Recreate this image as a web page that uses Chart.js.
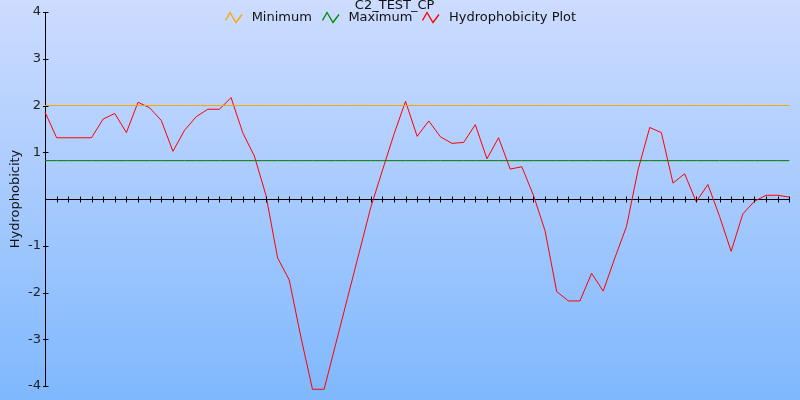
<!DOCTYPE html>
<html>
<head>
<meta charset="utf-8">
<title>C2_TEST_CP</title>
<script src="https://cdn.jsdelivr.net/npm/chart.js@4"></script>
<style>
  html, body { margin: 0; padding: 0; background: #fff; }
  #wrap { width: 800px; height: 400px; }
</style>
</head>
<body>
<div id="wrap"><canvas id="hydroChart" width="800" height="400"></canvas></div>
<script>
// residue positions along the sequence
const positions = [1, 2, 3, 4, 5, 6, 7, 8, 9, 10, 11, 12, 13, 14, 15, 16, 17, 18, 19, 20,
    21, 22, 23, 24, 25, 26, 27, 28, 29, 30, 31, 32, 33, 34, 35, 36, 37, 38, 39, 40,
    41, 42, 43, 44, 45, 46, 47, 48, 49, 50, 51, 52, 53, 54, 55, 56, 57, 58, 59, 60,
    61, 62, 63, 64, 65];

// hydrophobicity plot values
const hydroValues = [1.86, 1.31, 1.31, 1.31, 1.31, 1.71, 1.83, 1.42, 2.07, 1.95,
    1.68, 1.02, 1.47, 1.76, 1.92, 1.92, 2.17, 1.42, 0.92, 0.08,
    -1.26, -1.73, -2.95, -4.07, -4.07, -3.10, -2.13, -1.16, -0.19, 0.60,
    1.38, 2.09, 1.34, 1.67, 1.33, 1.19, 1.21, 1.59, 0.86, 1.31,
    0.64, 0.69, 0.08, -0.68, -1.98, -2.18, -2.18, -1.59, -1.97, -1.26,
    -0.59, 0.63, 1.53, 1.42, 0.34, 0.54, -0.06, 0.31, -0.37, -1.12,
    -0.32, -0.05, 0.08, 0.08, 0.04];

// threshold lines
const minimumLevel = 2.0;
const maximumLevel = 0.82;

const yTicks = [-4, -3, -2, -1, 0, 1, 2, 3, 4];

const FONT = 'DejaVu Sans';

// little zigzag icon for legend entries
function zigzag(color) {
    const c = document.createElement('canvas');
    c.width = 20;
    c.height = 13;
    const g = c.getContext('2d');
    g.strokeStyle = color;
    g.lineWidth = 1.3;
    g.beginPath();
    g.moveTo(0.5, 9.5);
    g.lineTo(5, 1.5);
    g.lineTo(11, 11.5);
    g.lineTo(17, 3.5);
    g.stroke();
    return c;
}

const bgPlugin = {
    id: 'bg',
    beforeDraw(chart) {
        const ctx = chart.ctx;
        const grad = ctx.createLinearGradient(0, 0, 0, chart.height);
        grad.addColorStop(0, '#cddcff');
        grad.addColorStop(1, '#7fb8fd');
        ctx.save();
        ctx.fillStyle = grad;
        ctx.fillRect(0, 0, chart.width, chart.height);
        ctx.restore();
        ctx.imageSmoothingEnabled = false;
    }
};

// legend overlaps the top of the plot, so it takes no room
const legendPlugin = {
    id: 'legendOverlay',
    beforeLayout(chart) {
        const lg = chart.legend;
        if (lg && !lg._noRoom) {
            const fit = lg.fit;
            lg.fit = function () { fit.call(this); this.height = 1; };
            lg._noRoom = true;
        }
    },
    afterLayout(chart) {
        const lg = chart.legend;
        if (lg) {
            lg.top -= 10;
            lg.height = 36;
            lg.bottom = lg.top + 36;
            lg.left += 6;
            lg.right += 6;
        }
    }
};

// small cross ticks on both axes
const crossTicks = {
    id: 'crossTicks',
    afterDraw(chart) {
        const ctx = chart.ctx;
        const xs = chart.scales.x, ys = chart.scales.y;
        const y0 = Math.round(ys.getPixelForValue(0)) + 0.5;
        const x0 = Math.round(chart.chartArea.left) + 0.5;
        ctx.save();
        ctx.strokeStyle = '#000';
        ctx.lineWidth = 1;
        ctx.beginPath();
        for (let i = 1; i < positions.length; i++) {
            const px = Math.round(xs.getPixelForValue(i)) + 0.5;
            ctx.moveTo(px, y0 - 3);
            ctx.lineTo(px, y0 + 3);
        }
        ys.ticks.forEach((t, i) => {
            if (t.value === 0) return;
            const py = Math.round(ys.getPixelForTick(i)) + 0.5;
            ctx.moveTo(x0 - 2.5, py);
            ctx.lineTo(x0 + 3, py);
        });
        ctx.stroke();
        ctx.restore();
    }
};

new Chart(document.getElementById('hydroChart'), {
    type: 'line',
    data: {
        labels: positions,
        datasets: [{
            label: 'Minimum',
            data: positions.map(() => minimumLevel),
            borderColor: '#ffa500',
            borderWidth: 1,
            pointRadius: 0,
            pointStyle: zigzag('#ffa500')
        }, {
            label: 'Maximum',
            data: positions.map(() => maximumLevel),
            borderColor: '#007a00',
            borderWidth: 1,
            pointRadius: 0,
            pointStyle: zigzag('#008a00')
        }, {
            label: 'Hydrophobicity Plot',
            data: hydroValues,
            borderColor: '#ff0000',
            borderWidth: 1,
            pointRadius: 0,
            tension: 0,
            clip: false,
            pointStyle: zigzag('#ff0000')
        }]
    },
    options: {
        responsive: false,
        animation: false,
        events: [],
        layout: { padding: { left: 0, right: 10.7, top: 0, bottom: 14 } },
        plugins: {
            title: {
                display: true,
                text: 'C2_TEST_CP',
                color: '#111',
                font: { family: FONT, size: 13, weight: 'normal', lineHeight: '11px' },
                padding: 0
            },
            legend: {
                display: true,
                position: 'top',
                labels: {
                    usePointStyle: true,
                    pointStyleWidth: 20,
                    boxHeight: 13,
                    padding: 10,
                    color: '#111',
                    font: { family: FONT, size: 13 }
                }
            },
            tooltip: { enabled: false }
        },
        scales: {
            x: {
                type: 'category',
                position: { y: 0 },
                grid: { display: false, drawTicks: false },
                border: { display: true, color: '#000', width: 1 },
                ticks: { display: false, autoSkip: false }
            },
            y: {
                min: yTicks[0],
                max: yTicks[yTicks.length - 1],
                afterFit(scale) { scale.width = 45; },
                afterBuildTicks(scale) { scale.ticks = yTicks.map(v => ({ value: v })); },
                grid: { display: false, drawTicks: false },
                border: { display: true, color: '#000', width: 1 },
                ticks: {
                    padding: 4,
                    color: '#222',
                    font: { family: FONT, size: 13 },
                    callback: v => (v === 0 ? '' : String(v))
                },
                title: {
                    display: true,
                    text: 'Hydrophobicity',
                    color: '#111',
                    font: { family: FONT, size: 13 },
                    padding: { top: 7.5, bottom: 0 }
                }
            }
        }
    },
    plugins: [bgPlugin, legendPlugin, crossTicks]
});
</script>
</body>
</html>
